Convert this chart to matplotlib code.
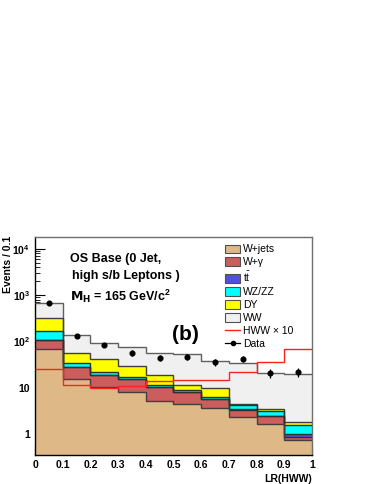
import numpy as np
import matplotlib
matplotlib.use('Agg')
import matplotlib.pyplot as plt
from matplotlib.patches import Patch
from matplotlib.lines import Line2D

plt.rcParams['font.family'] = ['Liberation Sans', 'DejaVu Sans']

# bin edges of LR(HWW)
edges = [0.0, 0.1, 0.2, 0.3, 0.4, 0.5, 0.6, 0.7, 0.8, 0.9, 1.0]
bin_centers = [0.05, 0.15, 0.25, 0.35, 0.45, 0.55, 0.65, 0.75, 0.85, 0.95]

# cumulative stack heights (events / 0.1)
wjets = [69, 15.5, 10.4, 8.1, 5.2, 4.4, 3.6, 2.3, 1.6, 0.74]
wgamma = [107, 28, 19, 15, 10.4, 8.0, 5.7, 3.3, 2.4, 0.86]
ttbar = [108, 28.3, 19.2, 15.2, 10.5, 8.1, 5.8, 3.4, 2.45, 1.0]
wzzz = [167, 34, 22, 17, 11.5, 9.0, 6.3, 4.2, 3.1, 1.57]
dy = [320, 56, 42, 30, 19, 11.5, 9.8, 4.4, 3.5, 1.8]
ww = [680, 138, 93, 76, 56, 54, 38, 34, 21, 20]

hww10 = [25, 11.5, 10, 11, 14, 14.5, 14.5, 22, 36, 69]

data = [670, 130, 84, 56, 44, 46, 36, 42, 21, 22]
data_err = [26, 11.4, 9.2, 7.5, 6.6, 6.8, 6.0, 6.5, 4.6, 4.7]

stack_labels = ['W+jets', 'W+\u03b3', r'$\mathregular{t\bar{t}}$', 'WZ/ZZ', 'DY', 'WW']
stack_colors = ['#deb887', '#cd5c5c', '#5050d8', '#00ffff', '#ffff00', '#f0f0f0']
stack_edges = ['#404040', '#303030', '#303030', '#303030', '#404040', '#606060']
stacks = [wjets, wgamma, ttbar, wzzz, dy, ww]

fig = plt.figure(figsize=(3.74, 4.84), dpi=100)
ax = fig.add_axes([0.0936, 0.0599, 0.7404, 0.4504])

floor = 0.35
# draw from the top of the stack down, like ROOT does
for vals, col, ec in reversed(list(zip(stacks, stack_colors, stack_edges))):
    ax.stairs(vals, edges, baseline=floor, fill=True, color=col, zorder=2)
    ax.stairs(vals, edges, baseline=None, color=ec, lw=1.0, zorder=3)

ax.stairs(hww10, edges, baseline=None, color='#ff2020', lw=1.0, zorder=4)

ax.errorbar(bin_centers, data, yerr=data_err, fmt='o', color='black',
            ms=3.4, lw=0.9, capsize=0, zorder=5)

ax.set_yscale('log')
ax.set_xlim(0, 1)
ax.set_ylim(floor, 18000)

ax.set_xticks(np.arange(0, 1.01, 0.1))
ax.set_xticklabels(['0', '0.1', '0.2', '0.3', '0.4', '0.5', '0.6', '0.7', '0.8', '0.9', '1'])
ax.set_xticks(np.arange(0, 1.001, 0.02), minor=True)
ax.set_yticks([1, 10, 100, 1000, 10000])
ax.set_yticklabels(['1', '10', '$\\mathregular{10^2}$', '$\\mathregular{10^3}$', '$\\mathregular{10^4}$'])

ax.tick_params(which='both', direction='in', labelsize=7.5, top=False, right=False)
ax.tick_params(which='major', length=7, width=0.8)
ax.tick_params(which='minor', length=3.5, width=0.6)
for lab in ax.get_xticklabels() + ax.get_yticklabels():
    lab.set_fontweight('bold')
for sp in ax.spines.values():
    sp.set_color('#707070')
    sp.set_linewidth(1.0)
ax.spines['left'].set_color('black')
ax.spines['bottom'].set_color('black')

ax.set_xlabel('LR(HWW)', fontsize=7.5, fontweight='bold', loc='right', labelpad=3)
fig.text(8 / 374, 1 - 236 / 484, 'Events / 0.1', rotation=90, fontsize=7.5,
         fontweight='bold', ha='center', va='top')

ax.text(0.125, 0.9, 'OS Base (0 Jet,', transform=ax.transAxes, fontsize=9,
        fontweight='bold', va='center')
ax.text(0.135, 0.82, 'high s/b Leptons )', transform=ax.transAxes, fontsize=9,
        fontweight='bold', va='center')
ax.text(0.125, 0.73, '$\\mathregular{\\bf{M_H}}$ = 165 GeV/c$\\mathregular{^2}$',
        transform=ax.transAxes, fontsize=9, fontweight='bold', va='center')
ax.text(0.545, 0.555, '(b)', transform=ax.transAxes, fontsize=15,
        fontweight='bold', ha='center', va='center')

handles = [Patch(facecolor=c, edgecolor='#505050', lw=0.8) for c in stack_colors]
handles.append(Line2D([], [], color='#ff2020', lw=1.0))
handles.append(Line2D([], [], color='black', marker='o', ms=3, lw=0.9))
labels = stack_labels + ['HWW \u00d7 10', 'Data']
ax.legend(handles, labels, loc='upper left', bbox_to_anchor=(0.67, 0.985),
          frameon=False, fontsize=7.5, handlelength=1.5, handleheight=0.9,
          handletextpad=0.3, labelspacing=0.28, borderaxespad=0)

fig.savefig('out.png', dpi=100)
